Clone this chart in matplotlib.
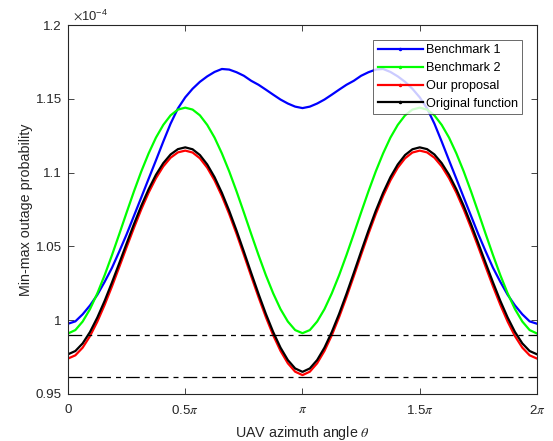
import numpy as np
import matplotlib
matplotlib.use('Agg')
import matplotlib.pyplot as plt
from matplotlib.lines import Line2D

plt.rcParams['font.family'] = ['Liberation Sans', 'DejaVu Sans']
plt.rcParams['mathtext.fontset'] = 'stix'

# azimuth samples, step pi/32 (values below in units of 1e-4)
theta = np.arange(65) * np.pi / 32

bench1 = [0.9976, 0.9992, 1.0040, 1.0100, 1.0172, 1.0260, 1.0355, 1.0466, 1.0582, 1.0707,
          1.0832, 1.0958, 1.1083, 1.1210, 1.1332, 1.1435, 1.1510, 1.1568, 1.1615, 1.1652,
          1.1682, 1.1702, 1.1698, 1.1680, 1.1656, 1.1622, 1.1595, 1.1562, 1.1528, 1.1495,
          1.1468, 1.1447, 1.1437,
          1.1447, 1.1468, 1.1495, 1.1528, 1.1562, 1.1595, 1.1622, 1.1656, 1.1680, 1.1698,
          1.1702, 1.1682, 1.1652, 1.1615, 1.1568, 1.1510, 1.1435, 1.1332, 1.1210, 1.1083,
          1.0958, 1.0832, 1.0707, 1.0582, 1.0466, 1.0355, 1.0260, 1.0172, 1.0100, 1.0040,
          0.9992, 0.9976]
bench2 = [0.9910, 0.9933, 0.9991, 1.0075, 1.0182, 1.0305, 1.0441, 1.0584, 1.0730, 1.0873,
          1.1008, 1.1130, 1.1237, 1.1323, 1.1388, 1.1427, 1.1440, 1.1427, 1.1388, 1.1323,
          1.1237, 1.1130, 1.1008, 1.0873, 1.0730, 1.0584, 1.0441, 1.0305, 1.0182, 1.0075,
          0.9991, 0.9933, 0.9912,
          0.9933, 0.9991, 1.0075, 1.0182, 1.0305, 1.0441, 1.0584, 1.0730, 1.0873, 1.1008,
          1.1130, 1.1237, 1.1323, 1.1388, 1.1427, 1.1440, 1.1427, 1.1388, 1.1323, 1.1237,
          1.1130, 1.1008, 1.0873, 1.0730, 1.0584, 1.0441, 1.0305, 1.0182, 1.0075, 0.9991,
          0.9933, 0.9910]
proposal = [0.9740, 0.9762, 0.9814, 0.9892, 0.9990, 1.0104, 1.0229, 1.0361, 1.0495, 1.0626,
            1.0751, 1.0864, 1.0962, 1.1042, 1.1101, 1.1137, 1.1149, 1.1136, 1.1097, 1.1033,
            1.0947, 1.0841, 1.0719, 1.0585, 1.0443, 1.0298, 1.0156, 1.0021, 0.9898, 0.9792,
            0.9708, 0.9651, 0.9628,
            0.9651, 0.9708, 0.9792, 0.9898, 1.0021, 1.0156, 1.0298, 1.0443, 1.0585, 1.0719,
            1.0841, 1.0947, 1.1033, 1.1097, 1.1136, 1.1149, 1.1137, 1.1101, 1.1042, 1.0962,
            1.0864, 1.0751, 1.0626, 1.0495, 1.0361, 1.0229, 1.0104, 0.9990, 0.9892, 0.9814,
            0.9762, 0.9740]
original = [0.9769, 0.9791, 0.9843, 0.9920, 1.0018, 1.0131, 1.0256, 1.0387, 1.0520, 1.0651,
            1.0775, 1.0887, 1.0985, 1.1064, 1.1123, 1.1159, 1.1171, 1.1158, 1.1119, 1.1055,
            1.0969, 1.0863, 1.0741, 1.0607, 1.0465, 1.0320, 1.0178, 1.0043, 0.9920, 0.9814,
            0.9730, 0.9673, 0.9650,
            0.9673, 0.9730, 0.9814, 0.9920, 1.0043, 1.0178, 1.0320, 1.0465, 1.0607, 1.0741,
            1.0863, 1.0969, 1.1055, 1.1119, 1.1158, 1.1171, 1.1159, 1.1123, 1.1064, 1.0985,
            1.0887, 1.0775, 1.0651, 1.0520, 1.0387, 1.0256, 1.0131, 1.0018, 0.9920, 0.9843,
            0.9791, 0.9769]
ref_levels = [0.9897, 0.9617]

labels = ['Benchmark 1', 'Benchmark 2', 'Our proposal', 'Original function']
colors = ['#0000ff', '#00ff00', '#ff0000', '#000000']
xticks = [0, 0.5 * np.pi, np.pi, 1.5 * np.pi, 2 * np.pi]
xticklabels = ['0', r'0.5$\pi$', r'$\pi$', r'1.5$\pi$', r'2$\pi$']
yticks = [0.95, 1.0, 1.05, 1.1, 1.15, 1.2]
yticklabels = ['0.95', '1', '1.05', '1.1', '1.15', '1.2']

fig = plt.figure(figsize=(5.53, 4.41), dpi=100)
ax = fig.add_axes([0.123, 0.1066, 0.848, 0.8367])

for y, c in zip([bench1, bench2, proposal, original], colors):
    ax.plot(theta, y, color=c, lw=1.6, solid_joinstyle='round')

for lv in ref_levels:
    ax.axhline(lv, color='black', lw=0.9, dashes=(11, 4, 4, 4))

ax.set_xlim(0, 2 * np.pi)
ax.set_ylim(0.95, 1.2)
ax.set_xticks(xticks)
ax.set_xticklabels(xticklabels)
ax.set_yticks(yticks)
ax.set_yticklabels(yticklabels)
ax.tick_params(direction='in', top=True, right=True, labelsize=9.6,
               colors='#262626', length=4, width=0.6)
ax.tick_params(axis='x', pad=7.5)
ax.tick_params(axis='y', pad=4.5)
for s in ax.spines.values():
    s.set_color('#262626')
    s.set_linewidth(0.8)

ax.set_xlabel(r'UAV azimuth angle $\theta$', fontsize=10.3, color='#262626', labelpad=4.5)
ax.set_ylabel('Min-max outage probability', fontsize=10.3, color='#262626', labelpad=1.5)
ax.text(0.01, 1.006, r'$\times\mathregular{10^{-4}}$', transform=ax.transAxes,
        fontsize=9.4, color='#262626', ha='left', va='bottom')

handles = [Line2D([], [], color=c, lw=1.6, marker='.', markersize=3) for c in colors]
leg = ax.legend(handles, labels, loc='upper right', bbox_to_anchor=(0.9685, 0.9595),
                fontsize=9.1, frameon=True, fancybox=False, edgecolor='#262626',
                handlelength=3.6, handletextpad=0.2, borderpad=0.35,
                labelspacing=0.46, borderaxespad=0.0, numpoints=1)
leg.get_frame().set_linewidth(0.6)

fig.savefig('out.png', dpi=100)
